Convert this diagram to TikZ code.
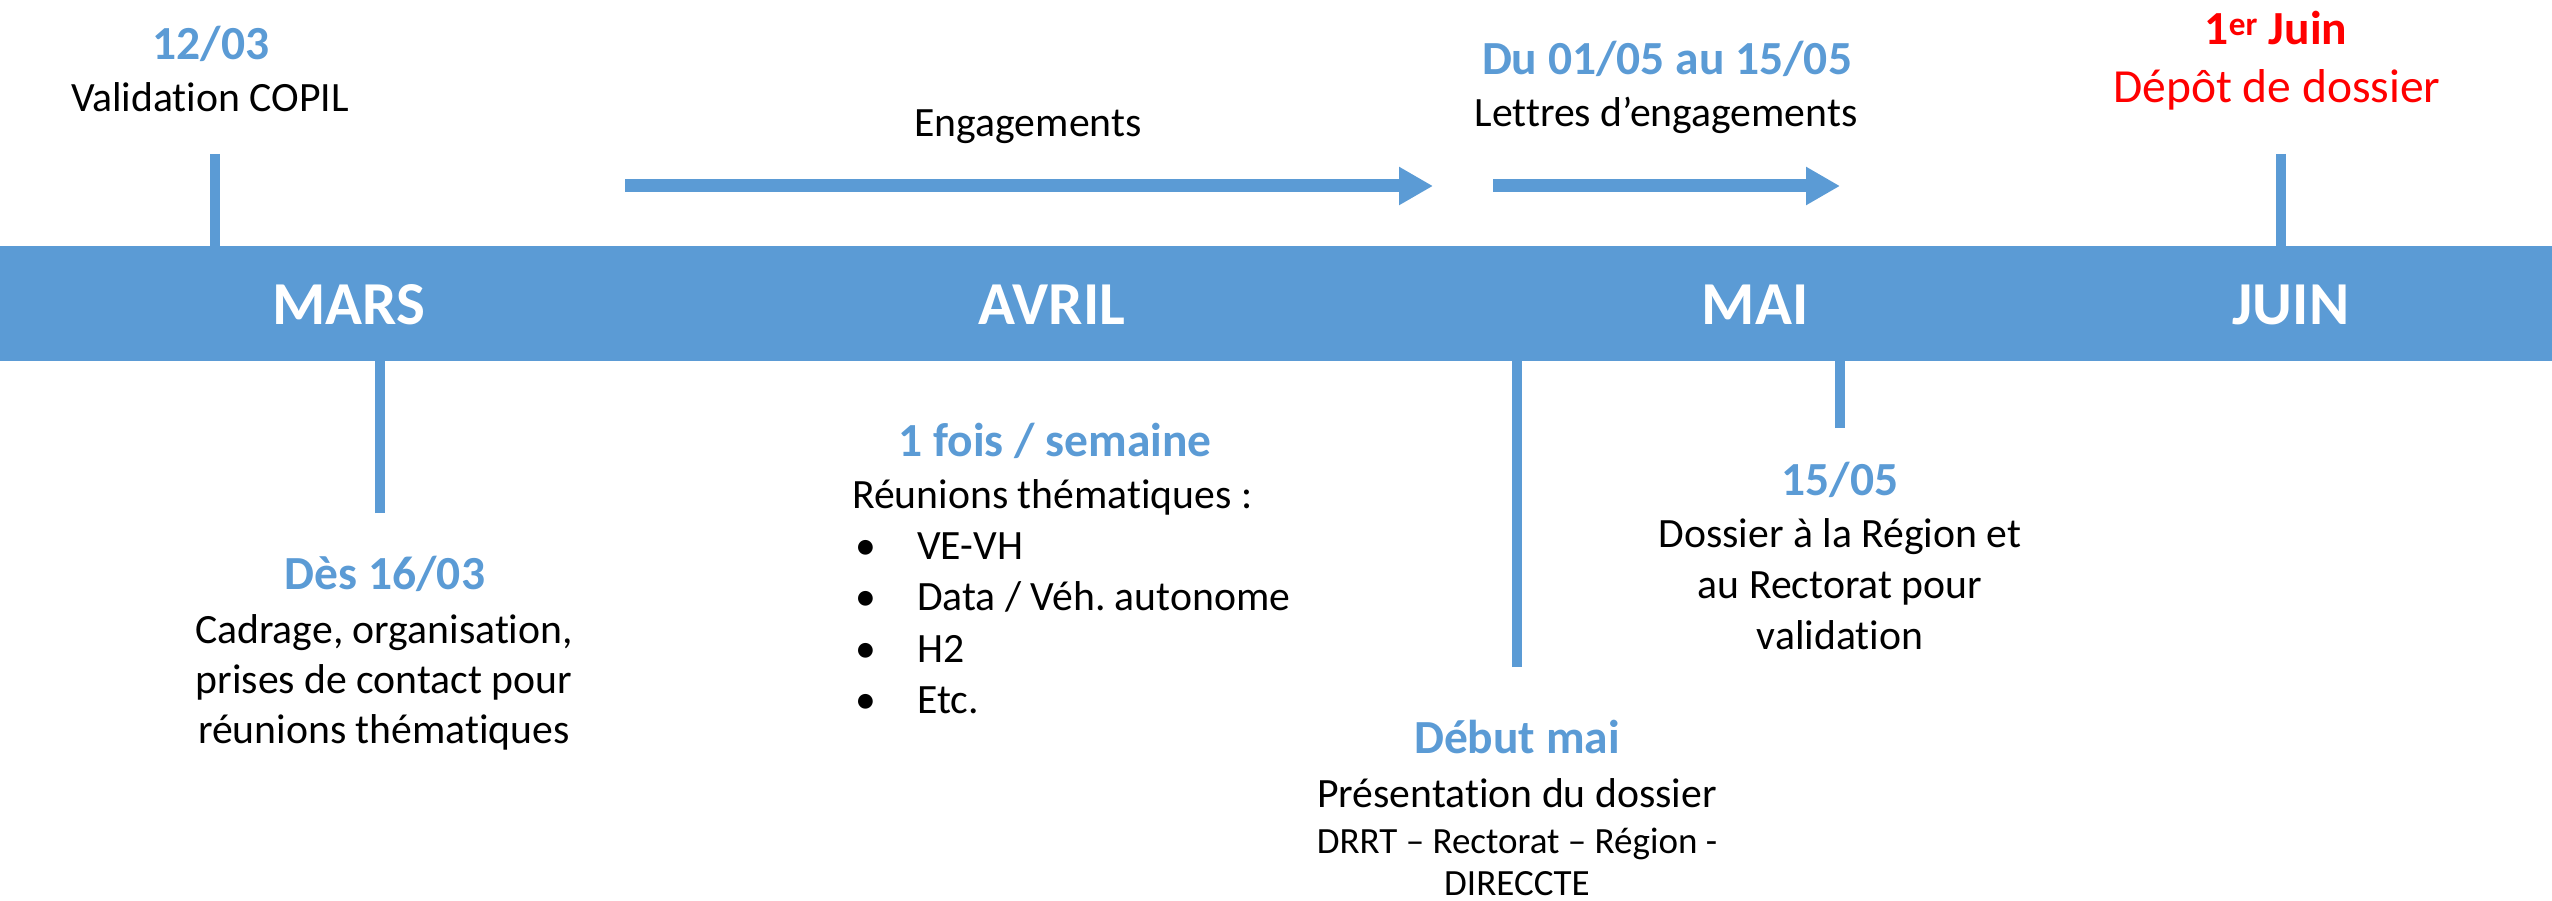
\documentclass[tikz,border=0pt]{standalone}
\usepackage{fontspec}
\setmainfont{Carlito}[RawFeature={-liga;-clig}]
\frenchspacing
\usetikzlibrary{arrows.meta}
\definecolor{tlblue}{HTML}{5B9BD5}
\definecolor{tlred}{HTML}{FF0000}
\begin{document}
\begin{tikzpicture}[x=1pt,y=-1pt,
  lbl/.style={inner sep=0pt, anchor=base},
  datelbl/.style={lbl, text=tlblue, font=\fontsize{47.5}{57}\selectfont\bfseries},
  txt/.style={lbl, text=black, font=\fontsize{41.7}{51}\selectfont},
  smalltxt/.style={lbl, text=black, font=\fontsize{37}{45}\selectfont},
  month/.style={lbl, text=white, font=\fontsize{61}{73}\selectfont\bfseries},
  tickline/.style={draw=tlblue, line width=10pt},
  flow/.style={draw=tlblue, line width=13pt, -{Triangle[length=34pt,width=36pt]}}
]
\useasboundingbox (0,0) rectangle (2552,901);
% timeline band
\node[fill=tlblue, minimum width=2552pt, minimum height=115pt, inner sep=0pt, outer sep=0pt, anchor=north west] (band) at (0,246) {};
% months
\node[month] (mars) at (349,325) {MARS};
\node[month] (avril) at (1052,325) {AVRIL};
\node[month] (mai) at (1755,325) {MAI};
\node[month] (juin) at (2291,325) {JUIN};
% ticks
\coordinate (k1) at (215,154);
\coordinate (k2) at (380,513);
\coordinate (k3) at (1517,667);
\coordinate (k4) at (1840,428);
\coordinate (k5) at (2281,154);
\draw[tickline] (k1) -- (k1 |- band.north);
\draw[tickline] (k2) -- (k2 |- band.south);
\draw[tickline] (k3) -- (k3 |- band.south);
\draw[tickline] (k4) -- (k4 |- band.south);
\draw[tickline] (k5) -- (k5 |- band.north);
% arrows
\coordinate (a1s) at (625,186);
\coordinate (a1e) at (1433,186);
\coordinate (a2s) at (1493,186);
\coordinate (a2e) at (1840,186);
\draw[flow] (a1s) -- (a1e);
\draw[flow] (a2s) -- (a2e);
% top labels
\node[datelbl] (d1) at (211,60) {12/03};
\node[txt] (t1) at (210,112) {Validation COPIL};
\node[txt] (eng) at (1028,137) {Engagements};
\node[datelbl] (d3) at (1667,75) {Du 01/05 au 15/05};
\node[txt] (t3) at (1666,127) {Lettres d’engagements};
\node[datelbl, text=tlred] (d5) at (2276,45) {1\textsuperscript{er} Juin};
\node[lbl, text=tlred, font=\fontsize{47.5}{57}\selectfont] (t5) at (2277,103) {Dépôt de dossier};
% bottom labels
\node[datelbl] (d2) at (385,589) {Dès 16/03};
\node[txt] (t2a) at (384,643) {Cadrage, organisation,};
\node[txt] (t2b) at (384,693) {prises de contact pour};
\node[txt] (t2c) at (384,743) {réunions thématiques};
\node[datelbl] (d4) at (1055,456) {1 fois / semaine};
\node[txt, anchor=base west] (t4) at (852,508) {Réunions thématiques :};
\node[txt, anchor=base west] (b1) at (855,559) {•};
\node[txt, anchor=base west] (i1) at (917,559) {VE-VH};
\node[txt, anchor=base west] (b2) at (855,610) {•};
\node[txt, anchor=base west] (i2) at (917,610) {Data / Véh. autonome};
\node[txt, anchor=base west] (b3) at (855,662) {•};
\node[txt, anchor=base west] (i3) at (917,662) {H2};
\node[txt, anchor=base west] (b4) at (855,713) {•};
\node[txt, anchor=base west] (i4) at (917,713) {Etc.};
\node[datelbl] (d6) at (1840,495) {15/05};
\node[txt] (t6a) at (1840,547) {Dossier à la Région et};
\node[txt] (t6b) at (1840,598) {au Rectorat pour};
\node[txt] (t6c) at (1840,649) {validation};
\node[datelbl] (d7) at (1517,753) {Début mai};
\node[txt] (t7a) at (1517,807) {Présentation du dossier};
\node[smalltxt] (t7b) at (1517,853) {DRRT – Rectorat – Région -};
\node[smalltxt] (t7c) at (1517,895) {DIRECCTE};
\end{tikzpicture}
\end{document}
